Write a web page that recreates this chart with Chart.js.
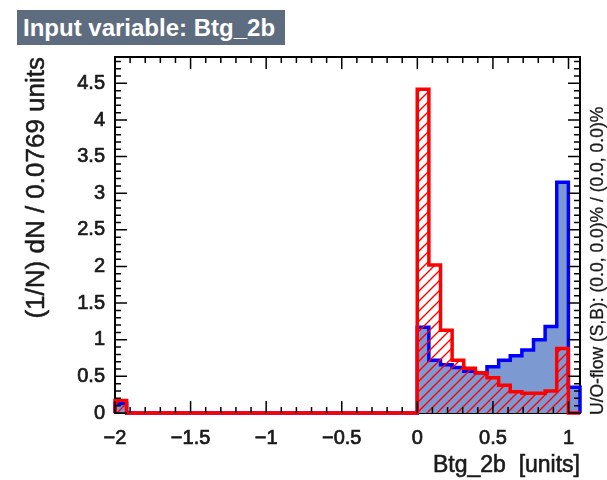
<!DOCTYPE html>
<html>
<head>
<meta charset="utf-8">
<script src="https://cdn.jsdelivr.net/npm/chart.js@4.4.0/dist/chart.umd.min.js"></script>
<style>
  body { margin: 0; background: #fff; }
  #wrap { position: relative; width: 607px; height: 480px; }
  #title {
    position: absolute; left: 17px; top: 10px; width: 268px; height: 35px;
    background: #5e6c80; color: #fff; box-sizing: border-box; padding-left: 6px;
    font: bold 24px "Liberation Sans", Arial, sans-serif; line-height: 35px; white-space: nowrap;
  }
</style>
</head>
<body>
<div id="wrap">
  <canvas id="myChart" width="607" height="480"></canvas>
  <div id="title">Input variable: Btg_2b</div>
</div>
<script>
// histogram binning
const xLow = -2;
const binWidth = 0.0769;
const nBins = 40;

// signal (blue) and background (red), normalised per bin
const signalValues = [
  0.13, 0, 0, 0, 0, 0, 0, 0, 0, 0,
  0, 0, 0, 0, 0, 0, 0, 0, 0, 0,
  0, 0, 0, 0, 0, 0, 1.17, 0.72, 0.66, 0.62,
  0.57, 0.55, 0.63, 0.72, 0.78, 0.86, 1.00, 1.18, 3.15, 0.35
];
const backgroundValues = [
  0.17, 0, 0, 0, 0, 0, 0, 0, 0, 0,
  0, 0, 0, 0, 0, 0, 0, 0, 0, 0,
  0, 0, 0, 0, 0, 0, 4.42, 2.02, 1.13, 0.72,
  0.61, 0.55, 0.48, 0.38, 0.29, 0.27, 0.27, 0.30, 0.88, 0.00
];

const xTickValues = [-2, -1.5, -1, -0.5, 0, 0.5, 1];
const yTickValues = [0, 0.5, 1, 1.5, 2, 2.5, 3, 3.5, 4, 4.5];

const xTitle = "Btg_2b  [units]";
const yTitle = "(1/N) dN / 0.0769 units";
const flowText = "U/O-flow (S,B): (0.0, 0.0)% / (0.0, 0.0)%";

const xHigh = xLow + nBins * binWidth;
const yMax = 4.86;
const font = '"Liberation Sans", Arial, sans-serif';

// step outline points: start at 0, one point per bin edge, back to 0
function histPoints(values) {
  const pts = [{ x: xLow, y: 0 }];
  values.forEach((v, i) => pts.push({ x: xLow + i * binWidth, y: v }));
  pts.push({ x: xHigh, y: 0 });
  return pts;
}

function hatchPattern() {
  const c = document.createElement("canvas");
  c.width = 10; c.height = 10;
  const g = c.getContext("2d");
  g.strokeStyle = "#ff0000";
  g.lineWidth = 1.4;
  g.beginPath();
  g.moveTo(-5, 5); g.lineTo(5, -5);
  g.moveTo(0, 10); g.lineTo(10, 0);
  g.moveTo(5, 15); g.lineTo(15, 5);
  g.stroke();
  return g.createPattern(c, "repeat");
}

function boldText(ctx, text, x, y, w) {
  ctx.lineWidth = w;
  ctx.strokeStyle = ctx.fillStyle;
  ctx.strokeText(text, x, y);
  ctx.fillText(text, x, y);
}

const framePlugin = {
  id: "frame",
  beforeDatasetsDraw(chart) {
    const { ctx, chartArea: a } = chart;
    ctx.save();
    ctx.strokeStyle = "#000";
    ctx.lineWidth = 2;
    ctx.strokeRect(a.left, a.top, a.right - a.left, a.bottom - a.top);
    ctx.restore();
  },
  afterDatasetsDraw(chart) {
    const { ctx, chartArea: a, scales } = chart;
    const sx = scales.x, sy = scales.y;
    ctx.save();
    ctx.strokeStyle = "#000";
    ctx.lineWidth = 1.5;
    ctx.beginPath();
    for (let k = 0; k <= 30; k++) {
      const v = xLow + k * 0.1;
      const px = sx.getPixelForValue(v);
      const len = k % 5 === 0 ? 12 : 6;
      ctx.moveTo(px, a.bottom); ctx.lineTo(px, a.bottom - len);
      ctx.moveTo(px, a.top); ctx.lineTo(px, a.top + len);
    }
    for (let k = 0; k <= 48; k++) {
      const v = k * 0.1;
      const py = sy.getPixelForValue(v);
      const len = k % 5 === 0 ? 12 : 6;
      ctx.moveTo(a.left, py); ctx.lineTo(a.left + len, py);
      ctx.moveTo(a.right, py); ctx.lineTo(a.right - len, py);
    }
    ctx.stroke();

    ctx.fillStyle = "#1a1a1a";
    // x title, right aligned to the axis end
    ctx.font = "23px " + font;
    ctx.textAlign = "right";
    ctx.textBaseline = "alphabetic";
    boldText(ctx, xTitle, a.right, 472, 0.6);
    // y title, rotated, ending at the top of the frame
    ctx.save();
    ctx.translate(44, a.top);
    ctx.rotate(-Math.PI / 2);
    ctx.font = "26px " + font;
    ctx.textAlign = "right";
    boldText(ctx, yTitle, 0, 0, 0.5);
    ctx.restore();
    // under/overflow note on the right
    ctx.save();
    ctx.translate(603, a.bottom + 2);
    ctx.rotate(-Math.PI / 2);
    ctx.font = "17.5px " + font;
    ctx.textAlign = "left";
    boldText(ctx, flowText, 0, 0, 0.3);
    ctx.restore();
    ctx.restore();
  }
};

const minus = (v) => String(v).replace("-", "\u2212");

const config = {
  type: "line",
  data: {
    datasets: [
      {
        label: "Background",
        data: histPoints(backgroundValues),
        stepped: true,
        borderColor: "#ff0000",
        borderWidth: 3.5,
        backgroundColor: hatchPattern(),
        fill: "origin",
        pointRadius: 0,
        clip: false,
        order: 0
      },
      {
        label: "Signal",
        data: histPoints(signalValues),
        stepped: true,
        borderColor: "#0000ff",
        borderWidth: 3.5,
        backgroundColor: "#7d99d1",
        fill: "origin",
        pointRadius: 0,
        clip: false,
        order: 1
      }
    ]
  },
  options: {
    responsive: false,
    animation: false,
    layout: { padding: { top: 57, right: 27, left: 0, bottom: 0 } },
    plugins: {
      legend: { display: false },
      tooltip: { enabled: false },
      title: { display: false }
    },
    scales: {
      x: {
        type: "linear",
        min: xLow,
        max: xHigh,
        grid: { display: false, drawTicks: false },
        border: { display: false },
        afterBuildTicks: (s) => { s.ticks = xTickValues.map(v => ({ value: v })); },
        afterFit: (s) => { s.height = 67; },
        ticks: {
          autoSkip: false, maxRotation: 0, padding: 13,
          color: "#1a1a1a", font: { family: font, size: 20 },
          textStrokeColor: "#1a1a1a", textStrokeWidth: 0.7,
          callback: (v) => minus(v)
        }
      },
      y: {
        type: "linear",
        min: 0,
        max: yMax,
        grid: { display: false, drawTicks: false },
        border: { display: false },
        afterBuildTicks: (s) => { s.ticks = yTickValues.map(v => ({ value: v })); },
        afterFit: (s) => { s.width = 115; },
        ticks: {
          autoSkip: false, padding: 10,
          color: "#1a1a1a", font: { family: font, size: 20 },
          textStrokeColor: "#1a1a1a", textStrokeWidth: 0.7,
          callback: (v) => minus(v)
        }
      }
    }
  },
  plugins: [framePlugin]
};

const myChart = new Chart(document.getElementById("myChart"), config);
</script>
</body>
</html>
